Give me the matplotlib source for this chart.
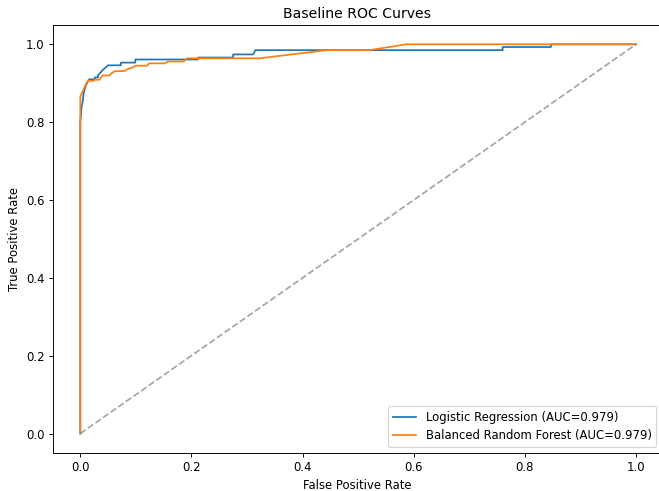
import numpy as np
import matplotlib
matplotlib.use("Agg")
import matplotlib.pyplot as plt

# ROC points
lr_fpr = [0, 0, 0.002, 0.004, 0.006, 0.010, 0.016, 0.026, 0.026, 0.032, 0.032,
          0.036, 0.041, 0.047, 0.050, 0.073, 0.073, 0.099, 0.099, 0.212, 0.212,
          0.275, 0.275, 0.311, 0.315, 0.760, 0.760, 0.847, 0.847, 1.0]
lr_tpr = [0, 0.80, 0.835, 0.850, 0.874, 0.895, 0.910, 0.910, 0.915, 0.915, 0.921,
          0.927, 0.935, 0.942, 0.946, 0.946, 0.953, 0.953, 0.961, 0.961, 0.966,
          0.966, 0.974, 0.974, 0.985, 0.985, 0.993, 0.993, 1.0, 1.0]

brf_fpr = [0, 0, 0.004, 0.011, 0.014, 0.023, 0.026, 0.034, 0.036, 0.040, 0.052,
           0.056, 0.062, 0.079, 0.085, 0.091, 0.100, 0.120, 0.124, 0.153, 0.158,
           0.186, 0.192, 0.322, 0.444, 0.520, 0.587, 1.0]
brf_tpr = [0, 0.865, 0.878, 0.901, 0.906, 0.906, 0.909, 0.909, 0.912, 0.920, 0.920,
           0.925, 0.931, 0.931, 0.936, 0.939, 0.945, 0.945, 0.951, 0.951, 0.956,
           0.956, 0.964, 0.964, 0.985, 0.985, 1.0, 1.0]

lr_auc = 0.979
brf_auc = 0.979

dpi = 84
fig = plt.figure(figsize=(659 / dpi, 491 / dpi), dpi=dpi)
# right spine sits just past the image edge in the reference
ax = fig.add_axes([0.0797, 0.0774, 0.925, 0.872])

ax.plot(lr_fpr, lr_tpr, label=f'Logistic Regression (AUC={lr_auc:.3f})')
ax.plot(brf_fpr, brf_tpr, label=f'Balanced Random Forest (AUC={brf_auc:.3f})')
ax.plot([0, 1], [0, 1], '--', color='gray', alpha=0.7)

ax.set_xlim(-0.05, 1.047)
ax.set_xlabel('False Positive Rate')
ax.set_ylabel('True Positive Rate')
ax.set_title('Baseline ROC Curves')
ax.legend(loc='lower right')

fig.savefig('out.png', dpi=dpi)
